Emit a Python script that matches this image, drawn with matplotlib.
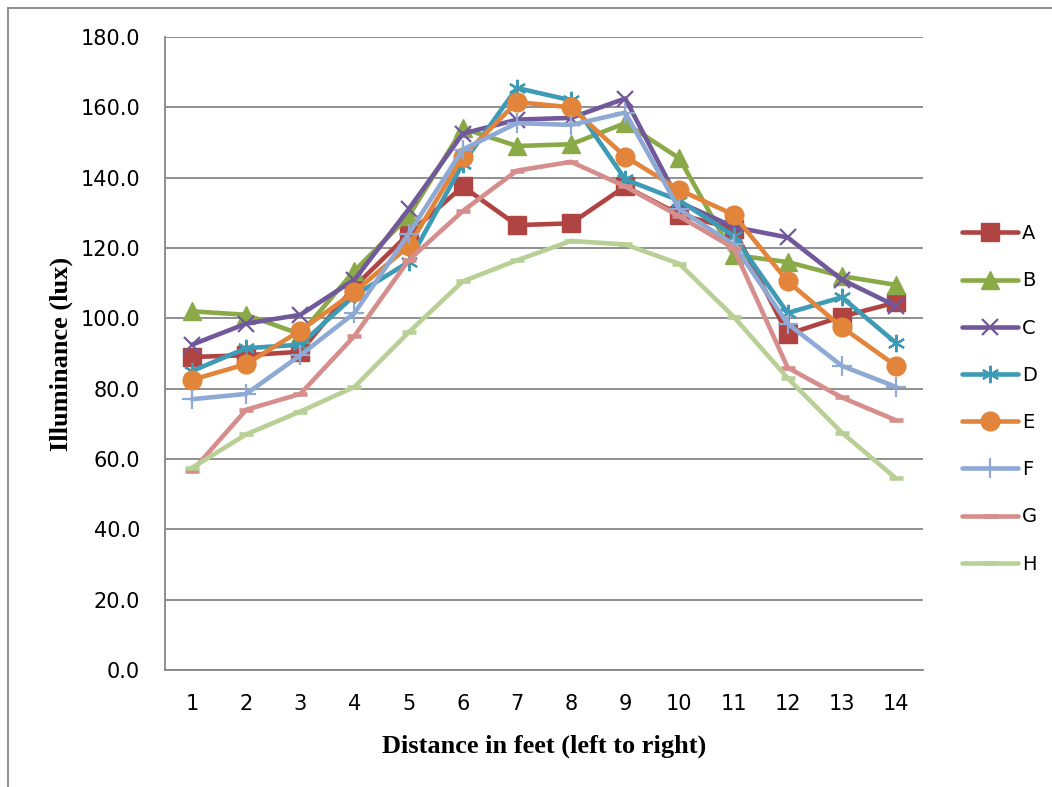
import numpy as np
import matplotlib.pyplot as plt
from matplotlib.lines import Line2D

# distance positions (feet)
distance = [1, 2, 3, 4, 5, 6, 7, 8, 9, 10, 11, 12, 13, 14]

# illuminance readings (lux) per series
A = [89.0, 89.5, 90.5, 109.0, 124.0, 137.5, 126.5, 127.0, 137.5, 129.5, 125.5, 95.5, 100.5, 104.5]
B = [102.0, 101.0, 95.5, 113.5, 129.0, 154.0, 149.0, 149.5, 155.5, 145.5, 118.0, 116.0, 112.0, 109.5]
C = [92.5, 98.5, 101.0, 111.0, 131.0, 152.5, 156.5, 157.0, 162.5, 133.0, 126.0, 123.0, 111.0, 103.5]
D = [85.0, 91.5, 92.5, 106.5, 116.0, 144.0, 165.5, 162.0, 139.5, 133.5, 123.5, 101.5, 106.0, 93.0]
E = [82.5, 87.0, 96.5, 107.5, 120.5, 146.0, 161.5, 160.0, 146.0, 136.5, 129.5, 110.5, 97.5, 86.5]
F = [77.0, 78.5, 89.5, 101.5, 124.0, 148.0, 155.5, 155.0, 158.5, 131.0, 121.0, 98.5, 86.5, 80.5]
G = [56.5, 74.0, 78.5, 95.0, 116.5, 130.5, 142.0, 144.5, 137.5, 129.0, 120.0, 86.0, 77.5, 71.0]
H = [57.5, 67.0, 73.5, 80.5, 96.0, 110.5, 116.5, 122.0, 121.0, 115.5, 100.5, 83.0, 67.5, 54.5]

names = ['A', 'B', 'C', 'D', 'E', 'F', 'G', 'H']
series = [A, B, C, D, E, F, G, H]
colors = ['#B04442', '#8AAA48', '#71589A', '#3E9BB5', '#E3843B', '#8EA9D4', '#D68E8C', '#B8D095']
markers = ['s', '^', 'x', '*', 'o', '+', '_', '_']
msizes = [12.5, 12.5, 11.5, 12.5, 13.5, 14, 10, 10]

fig = plt.figure(figsize=(10.52, 7.87), dpi=100)
ax = fig.add_axes([0.1568, 0.1487, 0.7206, 0.8043])

for name, ys, c, m, ms in zip(names, series, colors, markers, msizes):
    if m in ('x', '+', '_'):
        ax.plot(distance, ys, color=c, lw=3.3, marker=m, ms=ms, mew=1.6 if m != '_' else 3.3,
                label=name, solid_capstyle='round')
    elif m == '*':
        ax.plot(distance, ys, color=c, lw=3.3, marker=(6, 2, 0), ms=ms, mew=1.6,
                mec=c, label=name, solid_capstyle='round')
    else:
        ax.plot(distance, ys, color=c, lw=3.3, marker=m, ms=ms, mec=c, mfc=c,
                label=name, solid_capstyle='round')

ax.set_xlim(0.5, 14.5)
ax.set_ylim(0, 180)
ax.set_yticks(np.arange(0, 181, 20))
ax.set_yticklabels(['%.1f' % v for v in np.arange(0, 181, 20)])
ax.set_xticks(distance)
ax.set_xticklabels([str(d) for d in distance])
ax.yaxis.grid(True, color='#878787', lw=1.3)
ax.set_axisbelow(True)
for s in ['top', 'right']:
    ax.spines[s].set_visible(False)
for s in ['left', 'bottom']:
    ax.spines[s].set_color('#878787')
    ax.spines[s].set_linewidth(1.3)
ax.tick_params(axis='both', length=0, labelsize=15)
ax.tick_params(axis='y', pad=18)
ax.tick_params(axis='x', pad=17)

ax.set_xlabel('Distance in feet (left to right)', family='Liberation Serif',
              fontweight='bold', fontsize=19, labelpad=15)
ax.set_ylabel('Illuminance (lux)', family='Liberation Serif',
              fontweight='bold', fontsize=19, labelpad=5)

leg = fig.legend(loc='upper left', bbox_to_anchor=(0.907, 0.725), frameon=False,
                 fontsize=14, handlelength=2.9, handletextpad=0.2, labelspacing=1.45,
                 borderaxespad=0)

# outer chart border (cropped at right and bottom)
fig.add_artist(Line2D([8 / 1052, 8 / 1052], [0, 1 - 8 / 787], color='#878787', lw=1.3,
                      transform=fig.transFigure))
fig.add_artist(Line2D([8 / 1052, 1], [1 - 8 / 787, 1 - 8 / 787], color='#878787', lw=1.3,
                      transform=fig.transFigure))

fig.savefig('out.png', dpi=100)
